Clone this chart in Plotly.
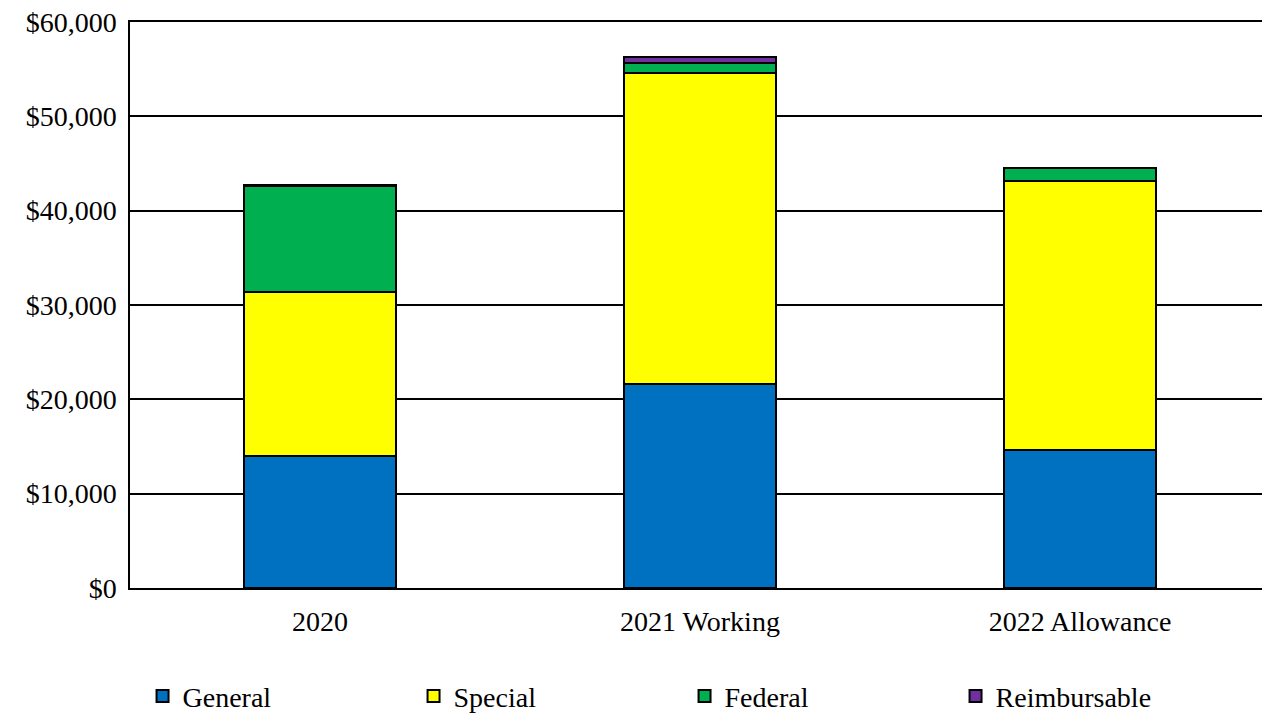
import plotly.graph_objects as go

categories = ["2020", "2021 Working", "2022 Allowance"]
general = [13990, 21600, 14650]
special = [17400, 33000, 28450]
federal = [11200, 1100, 1400]
reimbursable = [150, 550, 30]

series = [
    ("General", general, "#0070C0"),
    ("Special", special, "#FFFF00"),
    ("Federal", federal, "#00B050"),
    ("Reimbursable", reimbursable, "#7030A0"),
]

fig = go.Figure()
for name, vals, color in series:
    fig.add_trace(go.Bar(
        name=name, x=categories, y=vals,
        marker=dict(color=color, line=dict(color="black", width=2)),
    ))

font = dict(family="Liberation Serif, Times New Roman, serif", size=28, color="black")
fig.update_layout(
    barmode="stack",
    bargap=0.6,
    width=1262, height=705,
    margin=dict(l=122, r=0, t=14, b=125, autoexpand=False),
    plot_bgcolor="white", paper_bgcolor="white",
    font=font,
    showlegend=True,
    legend=dict(
        orientation="h", x=0.011, y=-0.147, xanchor="left", yanchor="top",
        entrywidth=226, entrywidthmode="pixels", font=font,
        itemwidth=30, traceorder="normal", bgcolor="rgba(0,0,0,0)",
    ),
    xaxis=dict(showline=True, mirror=True, linecolor="black", linewidth=1.5, ticks="",
               tickfont=font, ticklabelstandoff=8, automargin=False),
    yaxis=dict(range=[0, 60000], dtick=10000, tickprefix="$", tickformat=",",
               showgrid=True, gridcolor="black", gridwidth=1.5,
               showline=True, linecolor="black", linewidth=1.5,
               ticks="", tickfont=font, ticklabelstandoff=6, zeroline=False,
               automargin=False, ticklabeloverflow="allow"),
)
fig.write_html("out.html")
